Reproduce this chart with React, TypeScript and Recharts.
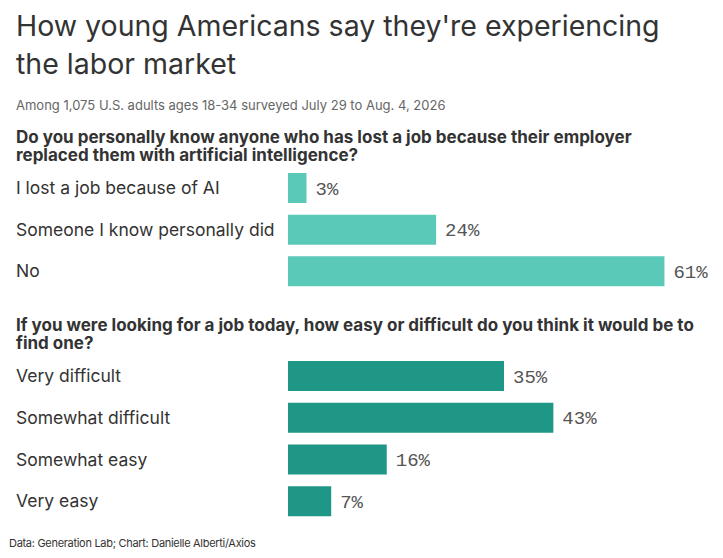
import { BarChart, Bar, XAxis, YAxis, LabelList } from 'recharts';

const aiCategories = ['I lost a job because of AI', 'Someone I know personally did', 'No'];
const aiValues = [3, 24, 61];
const jobCategories = ['Very difficult', 'Somewhat difficult', 'Somewhat easy', 'Very easy'];
const jobValues = [35, 43, 16, 7];

const aiData = aiCategories.map((label, i) => ({ label, value: aiValues[i] }));
const jobData = jobCategories.map((label, i) => ({ label, value: jobValues[i] }));

const FONT = 'Inter, "Noto Sans", sans-serif';
const ROW = 41.7;

const CategoryTick = (props: any) => {
  const { y, payload } = props;
  return (
    <text x={16} y={y} dy="0.355em" textAnchor="start" fill="#333" fontFamily={FONT} fontSize={17.5}>
      {payload.value}
    </text>
  );
};

const BarBlock = ({ data, colour, top }: { data: { label: string; value: number }[]; colour: string; top: number }) => (
  <div style={{ position: 'absolute', left: 0, top }}>
    <BarChart
      width={723}
      height={Math.round(data.length * ROW)}
      data={data}
      layout="vertical"
      margin={{ top: 0, right: 3, bottom: 0, left: 0 }}
    >
      <XAxis type="number" domain={[0, 70]} hide />
      <YAxis type="category" dataKey="label" width={288} axisLine={false} tickLine={false} tick={<CategoryTick />} />
      <Bar dataKey="value" fill={colour} barSize={30} isAnimationActive={false}>
        <LabelList
          dataKey="value"
          position="right"
          offset={9}
          formatter={(v: any) => `${v}%`}
          fill="#555"
          fontFamily='"Liberation Mono", monospace'
          fontSize={19}
        />
      </Bar>
    </BarChart>
  </div>
);

const App = () => {
  return (
    <div style={{ position: 'absolute', left: 0, top: 0, width: 723, height: 558, background: '#fff', fontFamily: FONT, color: '#333' }}>
      <div style={{ position: 'absolute', left: 16, top: 7, width: 680, fontSize: 28.5, lineHeight: '38px', fontWeight: 400 }}>
        How young Americans say they're experiencing the labor market
      </div>
      <div style={{ position: 'absolute', left: 16, top: 97, fontSize: 13, lineHeight: '16px', color: '#666', whiteSpace: 'nowrap' }}>
        Among 1,075 U.S. adults ages 18-34 surveyed July 29 to Aug. 4, 2026
      </div>
      <div style={{ position: 'absolute', left: 16, top: 128, width: 650, fontSize: 17, lineHeight: '18px', fontWeight: 700 }}>
        Do you personally know anyone who has lost a job because their employer replaced them with artificial intelligence?
      </div>
      <BarBlock data={aiData} colour="#5bc9b8" top={167} />
      <div style={{ position: 'absolute', left: 16, top: 315.5, width: 700, fontSize: 17, lineHeight: '18px', fontWeight: 700 }}>
        If you were looking for a job today, how easy or difficult do you think it would be to find one?
      </div>
      <BarBlock data={jobData} colour="#1f9787" top={355} />
      <div style={{ position: 'absolute', left: 9, top: 536.5, fontSize: 11, lineHeight: '13px', color: '#333', whiteSpace: 'nowrap', letterSpacing: -0.3 }}>
        Data: Generation Lab; Chart: Danielle Alberti/Axios
      </div>
    </div>
  );
};

export default App;
